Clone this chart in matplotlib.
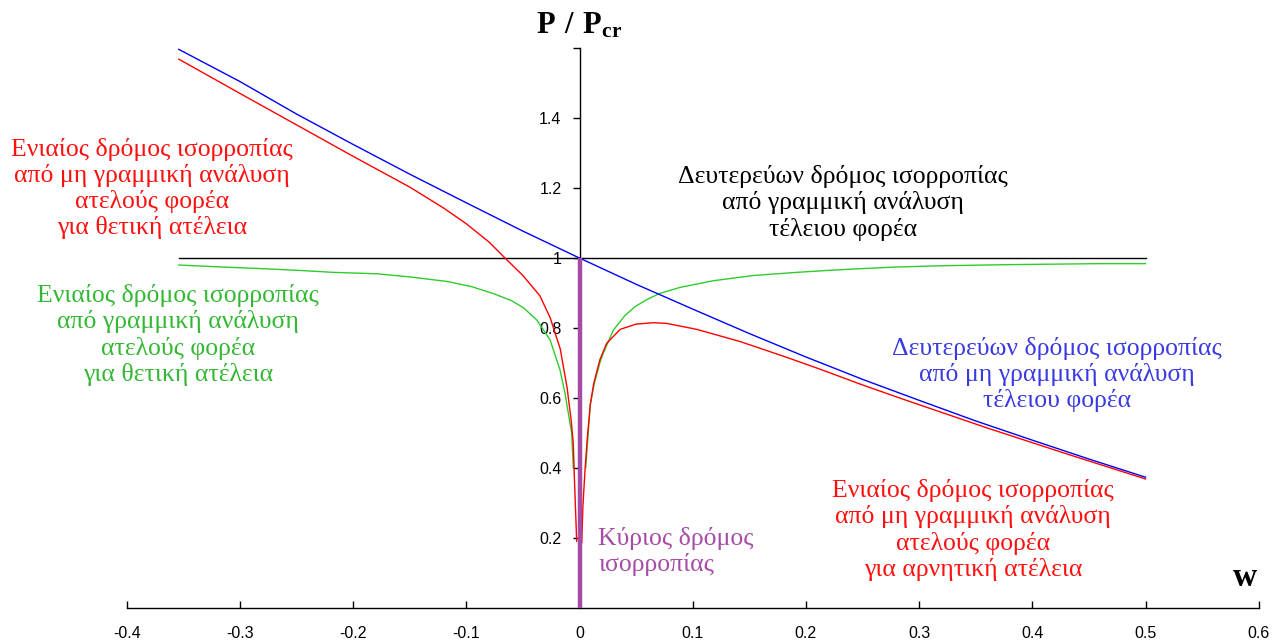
import matplotlib
matplotlib.use("Agg")
import matplotlib.pyplot as plt

# ---------------- data ----------------
blue_w = [-0.354, -0.30, -0.25, -0.20, -0.15, -0.10, -0.05, 0.0, 0.05, 0.10,
          0.15, 0.20, 0.25, 0.30, 0.35, 0.40, 0.45, 0.50]
blue_p = [1.597, 1.505, 1.412, 1.325, 1.240, 1.158, 1.077, 1.000, 0.925, 0.854,
          0.784, 0.717, 0.653, 0.593, 0.534, 0.479, 0.425, 0.373]

red_left_w = [-0.354, -0.30, -0.25, -0.20, -0.15, -0.12, -0.10, -0.08, -0.0658,
              -0.050, -0.035, -0.026, -0.017, -0.011, -0.0075, -0.0055, -0.0046, -0.0025]
red_left_p = [1.569, 1.471, 1.381, 1.291, 1.203, 1.143, 1.098, 1.046, 1.000,
              0.950, 0.892, 0.830, 0.740, 0.630, 0.540, 0.470, 0.379, 0.190]

red_right_w = [0.002, 0.003, 0.005, 0.0068, 0.0095, 0.0125, 0.018, 0.024, 0.036,
               0.050, 0.065, 0.077, 0.1035, 0.142, 0.183, 0.2125, 0.25, 0.286,
               0.36, 0.433, 0.50]
red_right_p = [0.185, 0.290, 0.400, 0.480, 0.580, 0.640, 0.709, 0.756, 0.796,
               0.811, 0.815, 0.813, 0.796, 0.761, 0.716, 0.682, 0.637, 0.596,
               0.514, 0.437, 0.368]

green_left_w = [-0.354, -0.32, -0.276, -0.244, -0.2175, -0.179, -0.15, -0.117,
                -0.095, -0.075, -0.060, -0.0496, -0.0378, -0.026, -0.0172, -0.0128,
                -0.0069, -0.0055]
green_left_p = [0.980, 0.975, 0.969, 0.964, 0.959, 0.955, 0.946, 0.933,
                0.918, 0.897, 0.878, 0.858, 0.823, 0.766, 0.680, 0.613,
                0.499, 0.399]

green_right_w = [0.0055, 0.0095, 0.013, 0.018, 0.021, 0.030, 0.040, 0.049, 0.060,
                 0.0711, 0.0888, 0.118, 0.1535, 0.192, 0.2213, 0.245, 0.277, 0.32,
                 0.377, 0.46, 0.50]
green_right_p = [0.400, 0.580, 0.640, 0.700, 0.728, 0.794, 0.835, 0.861, 0.882,
                 0.899, 0.916, 0.935, 0.950, 0.959, 0.965, 0.969, 0.974, 0.978,
                 0.981, 0.984, 0.984]

black_w = [-0.354, 0.50]
black_p = [1.0, 1.0]

main_w = [0.0, 0.0]
main_p = [0.0, 1.0]

x_ticks = [-0.4, -0.3, -0.2, -0.1, 0.0, 0.1, 0.2, 0.3, 0.4, 0.5, 0.6]
x_tick_labels = ["-0.4", "-0.3", "-0.2", "-0.1", "0", "0.1", "0.2", "0.3", "0.4", "0.5", "0.6"]
y_ticks = [0.2, 0.4, 0.6, 0.8, 1.0, 1.2, 1.4, 1.6]
y_tick_labels = ["0.2", "0.4", "0.6", "0.8", "1", "1.2", "1.4", ""]

txt_red_left = "Ενιαίος δρόμος ισορροπίας\nαπό μη γραμμική ανάλυση\nατελούς φορέα\nγια θετική ατέλεια"
txt_green_left = "Ενιαίος δρόμος ισορροπίας\nαπό γραμμική ανάλυση\nατελούς φορέα\nγια θετική ατέλεια"
txt_black = "Δευτερεύων δρόμος ισορροπίας\nαπό γραμμική ανάλυση\nτέλειου φορέα"
txt_blue = "Δευτερεύων δρόμος ισορροπίας\nαπό μη γραμμική ανάλυση\nτέλειου φορέα"
txt_red_right = "Ενιαίος δρόμος ισορροπίας\nαπό μη γραμμική ανάλυση\nατελούς φορέα\nγια αρνητική ατέλεια"
txt_main = "Κύριος δρόμος\nισορροπίας"

# ---------------- style ----------------
plt.rcParams['mathtext.fontset'] = 'custom'
plt.rcParams['mathtext.bf'] = 'Liberation Serif:bold'
plt.rcParams['mathtext.rm'] = 'Liberation Serif'

W, H = 1272, 641
fig = plt.figure(figsize=(W / 100, H / 100), dpi=100)
x0, x1, y0, y1 = 126.7, 1258.7, 607.6, 48.3
ax = fig.add_axes([x0 / W, (H - y0) / H, (x1 - x0) / W, (y0 - y1) / H])
ax.set_xlim(-0.4, 0.6)
ax.set_ylim(0, 1.6)

lw = 1.0
ax.plot(black_w, black_p, color='black', lw=lw, zorder=2)
ax.plot(green_left_w, green_left_p, color='#2ecc2e', lw=lw, zorder=3)
ax.plot(green_right_w, green_right_p, color='#2ecc2e', lw=lw, zorder=3)
ax.plot(blue_w, blue_p, color='#0000ff', lw=lw, zorder=4)
ax.plot(red_left_w, red_left_p, color='#ff0000', lw=lw, zorder=5)
ax.plot(red_right_w, red_right_p, color='#ff0000', lw=lw, zorder=5)
ax.plot(main_w, main_p, color='#a64ca6', lw=3.2, zorder=6, solid_capstyle='butt')

# axes / spines
for s in ['top', 'right']:
    ax.spines[s].set_visible(False)
ax.spines['left'].set_position(('data', 0))
ax.spines['left'].set_linewidth(1.0)
ax.spines['bottom'].set_linewidth(1.0)
ax.spines['left'].set_zorder(1)

tick_font = dict(family='Liberation Sans', size=11.5)
ax.set_xticks(x_ticks)
ax.set_xticklabels(x_tick_labels, **tick_font)
ax.set_yticks(y_ticks)
ax.set_yticklabels(y_tick_labels, **tick_font)
ax.tick_params(axis='x', direction='in', length=5, width=1, pad=13)
ax.tick_params(axis='y', direction='out', length=5, width=1, pad=8)

serif = 'Liberation Serif'
fs = 18.5
ls = 1.18
ax.text(-0.3777, 1.199, txt_red_left, color='#ff1010', ha='center', va='center',
        family=serif, fontsize=fs, linespacing=ls)
ax.text(-0.3546, 0.780, txt_green_left, color='#33b833', ha='center', va='center',
        family=serif, fontsize=fs, linespacing=ls)
ax.text(0.2328, 1.1577, txt_black, color='black', ha='center', va='center',
        family=serif, fontsize=fs, linespacing=ls)
ax.text(0.4218, 0.667, txt_blue, color='#3a3ae0', ha='center', va='center',
        family=serif, fontsize=fs, linespacing=ls)
ax.text(0.3476, 0.222, txt_red_right, color='#ff1010', ha='center', va='center',
        family=serif, fontsize=fs, linespacing=ls)
ax.text(0.0163, 0.1605, txt_main, color='#a64ca6', ha='left', va='center',
        family=serif, fontsize=fs, linespacing=ls)

ax.text(0.0, 1.667, r'$\mathbf{P\ /\ P_{cr}}$', ha='center', va='center',
        fontsize=22, clip_on=False)
ax.text(0.588, 0.085, 'w', ha='center', va='center', family=serif,
        fontweight='bold', fontsize=24, clip_on=False)

fig.savefig('out.png', dpi=100)
